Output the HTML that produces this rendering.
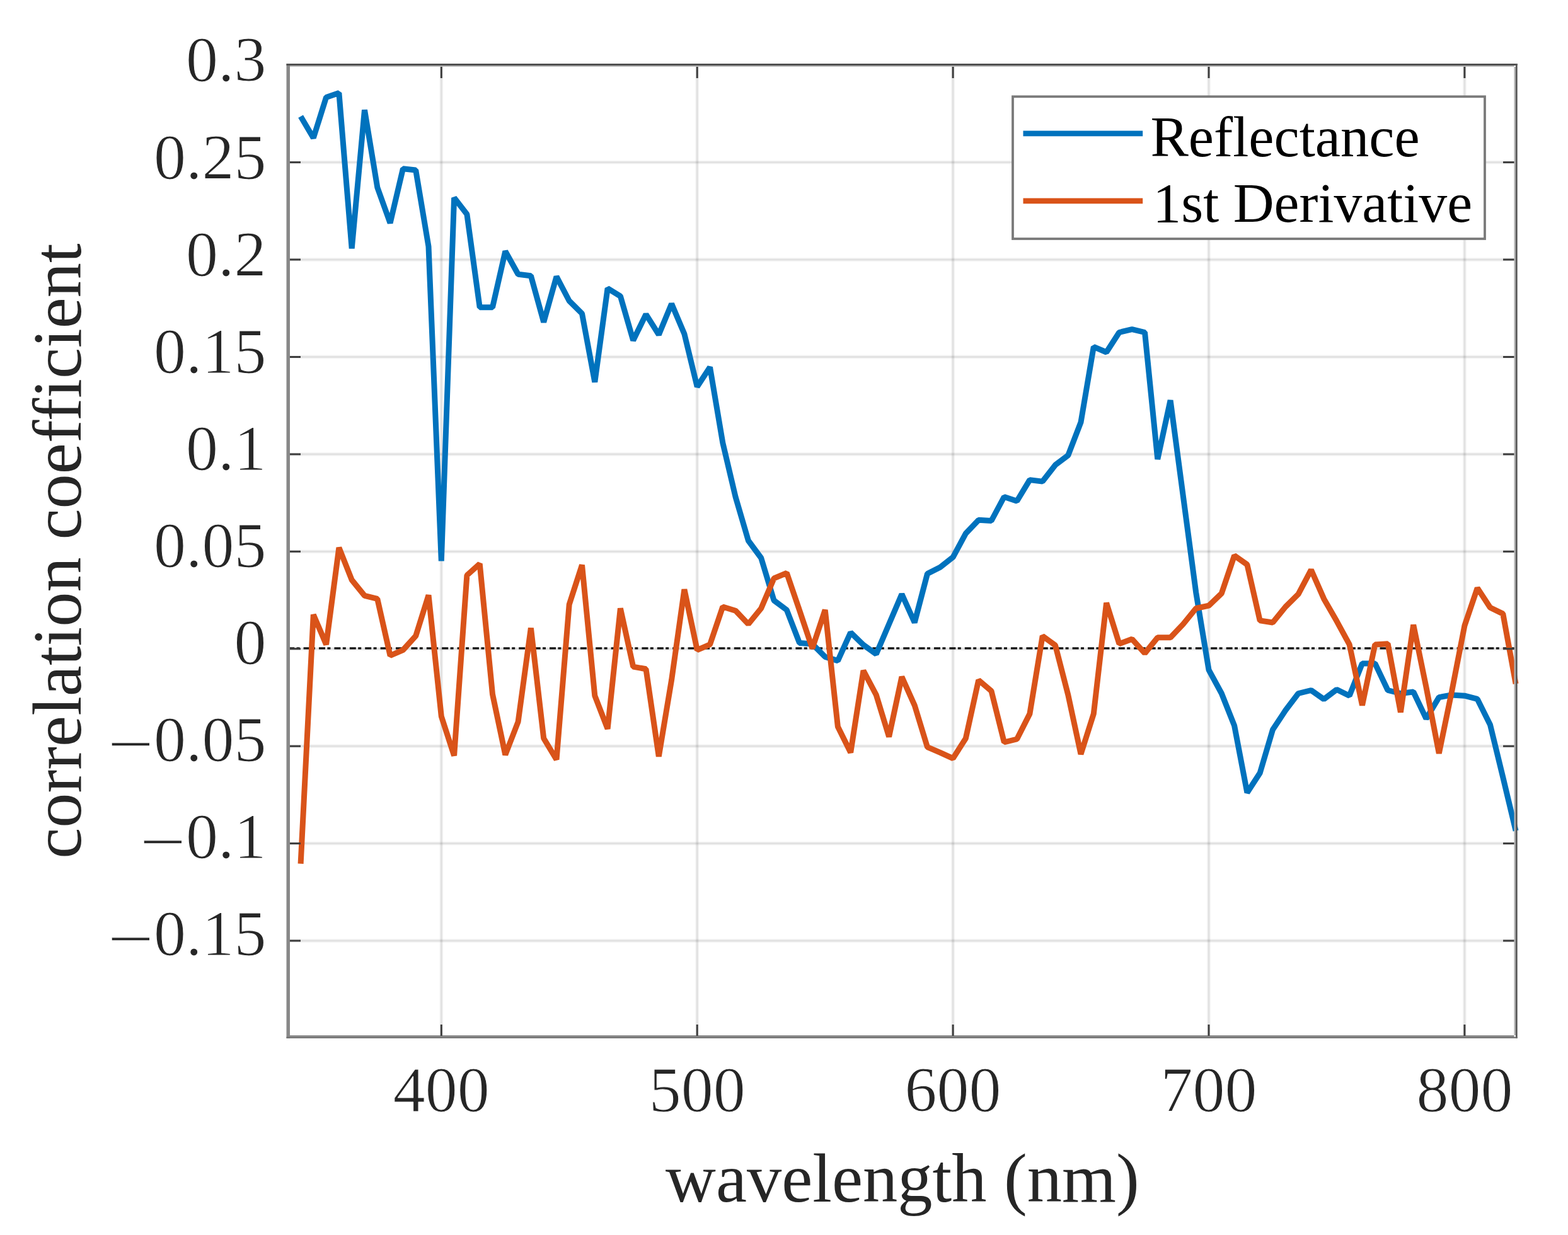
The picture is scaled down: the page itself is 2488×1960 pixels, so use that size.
<!DOCTYPE html>
<html><head><meta charset="utf-8"><title>correlation coefficient vs wavelength</title>
<style>
html,body{margin:0;padding:0;background:#fff;}
body{width:2488px;height:1960px;overflow:hidden;}
svg{display:block;}
text{font-family:"Liberation Serif","Times New Roman",serif;}
</style></head><body>
<svg width="2488" height="1960" viewBox="0 0 2488 1960">
<rect x="0" y="0" width="2488" height="1960" fill="#fff"/>
<g id="grid">
<rect x="698.95" y="103.2" width="2.7" height="1542.2" fill="#262626" fill-opacity="0.095"/><rect x="697.40" y="103.2" width="5.8" height="1542.2" fill="#262626" fill-opacity="0.05"/>
<rect x="1104.85" y="103.2" width="2.7" height="1542.2" fill="#262626" fill-opacity="0.095"/><rect x="1103.30" y="103.2" width="5.8" height="1542.2" fill="#262626" fill-opacity="0.05"/>
<rect x="1510.75" y="103.2" width="2.7" height="1542.2" fill="#262626" fill-opacity="0.095"/><rect x="1509.20" y="103.2" width="5.8" height="1542.2" fill="#262626" fill-opacity="0.05"/>
<rect x="1916.65" y="103.2" width="2.7" height="1542.2" fill="#262626" fill-opacity="0.095"/><rect x="1915.10" y="103.2" width="5.8" height="1542.2" fill="#262626" fill-opacity="0.05"/>
<rect x="2322.55" y="103.2" width="2.7" height="1542.2" fill="#262626" fill-opacity="0.095"/><rect x="2321.00" y="103.2" width="5.8" height="1542.2" fill="#262626" fill-opacity="0.05"/>
<rect x="457.2" y="256.25" width="1947.9" height="2.7" fill="#262626" fill-opacity="0.095"/><rect x="457.2" y="254.70" width="1947.9" height="5.8" fill="#262626" fill-opacity="0.05"/>
<rect x="457.2" y="410.67" width="1947.9" height="2.7" fill="#262626" fill-opacity="0.095"/><rect x="457.2" y="409.12" width="1947.9" height="5.8" fill="#262626" fill-opacity="0.05"/>
<rect x="457.2" y="565.10" width="1947.9" height="2.7" fill="#262626" fill-opacity="0.095"/><rect x="457.2" y="563.55" width="1947.9" height="5.8" fill="#262626" fill-opacity="0.05"/>
<rect x="457.2" y="719.52" width="1947.9" height="2.7" fill="#262626" fill-opacity="0.095"/><rect x="457.2" y="717.98" width="1947.9" height="5.8" fill="#262626" fill-opacity="0.05"/>
<rect x="457.2" y="873.95" width="1947.9" height="2.7" fill="#262626" fill-opacity="0.095"/><rect x="457.2" y="872.40" width="1947.9" height="5.8" fill="#262626" fill-opacity="0.05"/>
<rect x="457.2" y="1028.38" width="1947.9" height="2.7" fill="#262626" fill-opacity="0.095"/><rect x="457.2" y="1026.82" width="1947.9" height="5.8" fill="#262626" fill-opacity="0.05"/>
<rect x="457.2" y="1182.80" width="1947.9" height="2.7" fill="#262626" fill-opacity="0.095"/><rect x="457.2" y="1181.25" width="1947.9" height="5.8" fill="#262626" fill-opacity="0.05"/>
<rect x="457.2" y="1337.22" width="1947.9" height="2.7" fill="#262626" fill-opacity="0.095"/><rect x="457.2" y="1335.67" width="1947.9" height="5.8" fill="#262626" fill-opacity="0.05"/>
<rect x="457.2" y="1491.65" width="1947.9" height="2.7" fill="#262626" fill-opacity="0.095"/><rect x="457.2" y="1490.10" width="1947.9" height="5.8" fill="#262626" fill-opacity="0.05"/>
</g>
<line x1="457.2" y1="1028.9" x2="2405.1" y2="1028.9" stroke="#111" stroke-width="3.2" stroke-dasharray="10 3.4 5 6"/>
<polyline fill="none" stroke="#0072BD" stroke-width="9" stroke-linejoin="bevel" stroke-linecap="butt" points="477.1,184.7 497.3,219.0 517.6,154.4 537.9,147.6 558.2,394.4 578.5,174.5 598.8,297.4 619.1,354.0 639.4,267.8 659.7,270.0 680.0,391.3 700.3,890.4 720.6,313.8 740.9,340.1 761.2,487.7 781.5,487.7 801.8,398.7 822.1,435.2 842.4,437.7 862.7,511.2 883.0,438.9 903.2,477.5 923.5,497.6 943.8,606.3 964.1,457.7 984.4,470.1 1004.7,540.2 1025.0,498.8 1045.3,531.2 1065.6,482.1 1085.9,530.0 1106.2,613.7 1126.5,582.8 1146.8,702.7 1167.1,788.8 1187.4,858.0 1207.7,885.5 1228.0,952.8 1248.3,968.0 1268.6,1020.5 1288.9,1022.0 1309.2,1042.4 1329.4,1048.6 1349.7,1003.8 1370.0,1023.5 1390.3,1038.1 1410.6,990.5 1430.9,942.9 1451.2,988.0 1471.5,910.5 1491.8,900.3 1512.1,884.3 1532.4,846.6 1552.7,825.3 1573.0,826.5 1593.3,788.5 1613.6,795.3 1633.9,761.6 1654.2,764.1 1674.5,737.9 1694.8,722.7 1715.0,670.2 1735.3,550.4 1755.6,559.0 1775.9,527.5 1796.2,522.6 1816.5,527.5 1836.8,728.9 1857.1,635.3 1877.4,787.9 1897.7,940.2 1918.0,1063.1 1938.3,1100.5 1958.6,1151.7 1978.9,1258.0 1999.2,1226.8 2019.5,1157.9 2039.8,1127.3 2060.1,1100.5 2080.4,1095.5 2100.7,1109.7 2120.9,1094.3 2141.2,1104.2 2161.5,1052.9 2181.8,1052.9 2202.1,1095.5 2222.4,1100.5 2242.7,1098.0 2263.0,1140.6 2283.3,1106.6 2303.6,1102.9 2323.9,1104.2 2344.2,1109.4 2364.5,1150.2 2384.8,1233.6 2405.1,1318.5"/>
<polyline fill="none" stroke="#D95319" stroke-width="9" stroke-linejoin="bevel" stroke-linecap="butt" points="477.1,1370.7 497.3,975.4 517.6,1022.9 537.9,869.1 558.2,920.4 578.5,945.4 598.8,950.4 619.1,1040.5 639.4,1031.6 659.7,1009.3 680.0,944.5 700.3,1136.9 720.6,1199.3 740.9,913.0 761.2,894.8 781.5,1101.7 801.8,1198.0 822.1,1145.5 842.4,996.7 862.7,1171.8 883.0,1205.5 903.2,959.3 923.5,896.6 943.8,1104.2 964.1,1156.7 984.4,965.5 1004.7,1058.1 1025.0,1061.8 1045.3,1200.5 1065.6,1079.1 1085.9,935.5 1106.2,1031.6 1126.5,1022.9 1146.8,963.0 1167.1,969.2 1187.4,990.5 1207.7,965.5 1228.0,917.9 1248.3,909.3 1268.6,968.6 1288.9,1029.1 1309.2,968.0 1329.4,1153.3 1349.7,1194.3 1370.0,1064.3 1390.3,1102.9 1410.6,1169.3 1430.9,1074.2 1451.2,1119.3 1471.5,1185.7 1491.8,1194.3 1512.1,1203.6 1532.4,1171.8 1552.7,1079.4 1573.0,1096.7 1593.3,1178.0 1613.6,1173.0 1633.9,1132.9 1654.2,1009.3 1674.5,1024.2 1694.8,1102.9 1715.0,1196.8 1735.3,1132.9 1755.6,956.8 1775.9,1021.7 1796.2,1014.3 1816.5,1036.8 1836.8,1011.8 1857.1,1011.8 1877.4,990.5 1897.7,965.5 1918.0,961.2 1938.3,941.7 1958.6,881.8 1978.9,896.0 1999.2,984.9 2019.5,988.0 2039.8,963.0 2060.1,942.9 2080.4,904.3 2100.7,950.4 2120.9,985.6 2141.2,1022.9 2161.5,1119.3 2181.8,1022.9 2202.1,1021.7 2222.4,1130.4 2242.7,991.7 2263.0,1090.6 2283.3,1195.6 2303.6,1097.4 2323.9,993.0 2344.2,933.1 2364.5,964.2 2384.8,974.1 2405.1,1085.3"/>
<g id="axes">
<rect x="454.5" y="101" width="5.5" height="1546.8" fill="#888"/>
<rect x="460" y="103.5" width="1942.5" height="2.5" fill="#b8b8b8"/>
<rect x="454.5" y="101" width="1953.2" height="3" fill="#505050"/>
<rect x="2402.5" y="106" width="3" height="1537.0" fill="#b0b0b0"/>
<rect x="2405" y="101" width="2.7" height="1546.8" fill="#585858"/>
<rect x="460" y="1643" width="1942.5" height="3.5" fill="#909090"/>
<rect x="454.5" y="1645.5" width="1953.2" height="2.3" fill="#707070"/>

<rect x="698.8" y="1626" width="3" height="18" fill="#3c3c3c"/><rect x="698.8" y="106" width="3" height="18" fill="#3c3c3c"/>
<rect x="1104.7" y="1626" width="3" height="18" fill="#3c3c3c"/><rect x="1104.7" y="106" width="3" height="18" fill="#3c3c3c"/>
<rect x="1510.6" y="1626" width="3" height="18" fill="#3c3c3c"/><rect x="1510.6" y="106" width="3" height="18" fill="#3c3c3c"/>
<rect x="1916.5" y="1626" width="3" height="18" fill="#3c3c3c"/><rect x="1916.5" y="106" width="3" height="18" fill="#3c3c3c"/>
<rect x="2322.4" y="1626" width="3" height="18" fill="#3c3c3c"/><rect x="2322.4" y="106" width="3" height="18" fill="#3c3c3c"/>
<rect x="460" y="256.1" width="17" height="3" fill="#3c3c3c"/><rect x="2385" y="256.1" width="17.5" height="3" fill="#3c3c3c"/>
<rect x="460" y="410.5" width="17" height="3" fill="#3c3c3c"/><rect x="2385" y="410.5" width="17.5" height="3" fill="#3c3c3c"/>
<rect x="460" y="565.0" width="17" height="3" fill="#3c3c3c"/><rect x="2385" y="565.0" width="17.5" height="3" fill="#3c3c3c"/>
<rect x="460" y="719.4" width="17" height="3" fill="#3c3c3c"/><rect x="2385" y="719.4" width="17.5" height="3" fill="#3c3c3c"/>
<rect x="460" y="873.8" width="17" height="3" fill="#3c3c3c"/><rect x="2385" y="873.8" width="17.5" height="3" fill="#3c3c3c"/>
<rect x="460" y="1028.2" width="17" height="3" fill="#3c3c3c"/><rect x="2385" y="1028.2" width="17.5" height="3" fill="#3c3c3c"/>
<rect x="460" y="1182.7" width="17" height="3" fill="#3c3c3c"/><rect x="2385" y="1182.7" width="17.5" height="3" fill="#3c3c3c"/>
<rect x="460" y="1337.1" width="17" height="3" fill="#3c3c3c"/><rect x="2385" y="1337.1" width="17.5" height="3" fill="#3c3c3c"/>
<rect x="460" y="1491.5" width="17" height="3" fill="#3c3c3c"/><rect x="2385" y="1491.5" width="17.5" height="3" fill="#3c3c3c"/>
</g>
<g fill="#262626" font-size="102" stroke="#fff" stroke-width="1.1" stroke-linejoin="round">
<text x="422.5" y="129.2" text-anchor="end">0.3</text>
<text x="422.5" y="283.6" text-anchor="end">0.25</text>
<text x="422.5" y="437.6" text-anchor="end">0.2</text>
<text x="422.5" y="591.7" text-anchor="end">0.15</text>
<text x="422.5" y="745.8" text-anchor="end">0.1</text>
<text x="422.5" y="899.8" text-anchor="end">0.05</text>
<text x="422.5" y="1053.8" text-anchor="end">0</text>
<text x="170.4" y="1207.9"><tspan dy="7.2" textLength="73.6" lengthAdjust="spacingAndGlyphs">−</tspan><tspan dy="-7.2">0.05</tspan></text>
<text x="221.4" y="1361.9"><tspan dy="7.6" textLength="73.6" lengthAdjust="spacingAndGlyphs">−</tspan><tspan dy="-7.6">0.1</tspan></text>
<text x="170.4" y="1516.0"><tspan dy="8.0" textLength="73.6" lengthAdjust="spacingAndGlyphs">−</tspan><tspan dy="-8.0">0.15</tspan></text>
<text x="700.3" y="1764" text-anchor="middle">400</text>
<text x="1106.2" y="1764" text-anchor="middle">500</text>
<text x="1512.1" y="1764" text-anchor="middle">600</text>
<text x="1918.0" y="1764" text-anchor="middle">700</text>
<text x="2323.9" y="1764" text-anchor="middle">800</text>
</g>
<text x="1432" y="1907" font-size="110.5" fill="#262626" text-anchor="middle">wavelength (nm)</text>
<text x="0" y="0" transform="translate(127.5,874.5) rotate(-90)" font-size="110.5" fill="#262626" text-anchor="middle">correlation coefficient</text>
<g id="legend">
<rect x="1607" y="153.3" width="749" height="225.7" fill="#fff" stroke="#7a7a7a" stroke-width="3.8"/>
<line x1="1623.5" y1="211.9" x2="1813.2" y2="211.9" stroke="#0072BD" stroke-width="8.6"/>
<line x1="1623.5" y1="318.9" x2="1813.2" y2="318.9" stroke="#D95319" stroke-width="8.6"/>
<text x="1825.5" y="248" font-size="90.5" fill="#000">Reflectance</text>
<text x="1829.3" y="352" font-size="89.9" fill="#000">1st Derivative</text>
</g>
</svg></body></html>
